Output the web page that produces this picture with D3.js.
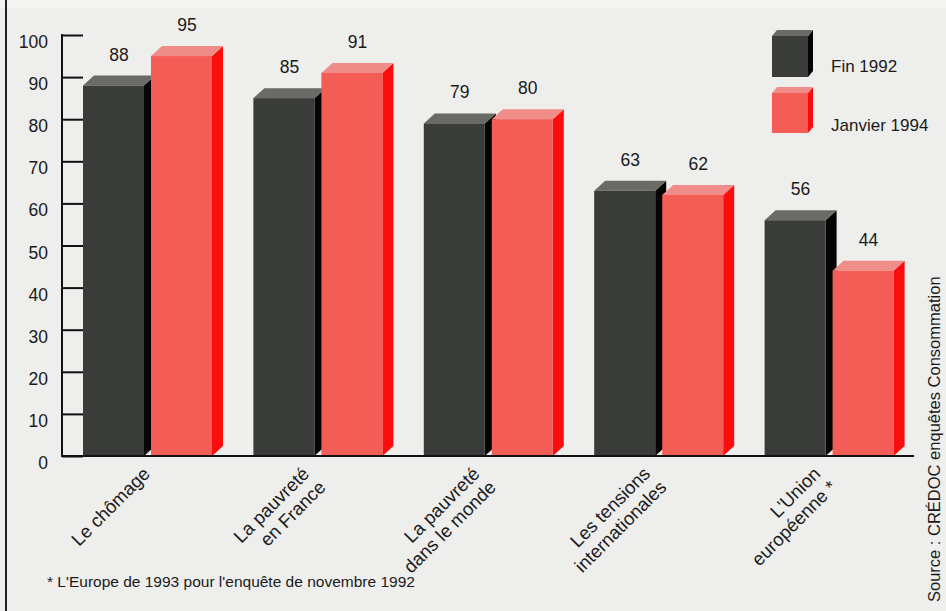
<!DOCTYPE html>
<html>
<head>
<meta charset="utf-8">
<script src="https://cdn.jsdelivr.net/npm/d3@7"></script>
<style>
  html, body { margin: 0; padding: 0; background: #eeeeec; }
  svg { display: block; }
  text { font-family: "Liberation Sans", Arial, Helvetica, sans-serif; fill: #1a1a1a; }
</style>
</head>
<body>
<svg id="chart" width="946" height="611"></svg>
<script>
// Inquiétudes : part des personnes interrogées (%)
const categories = [
  ["Le chômage"],
  ["La pauvreté", "en France"],
  ["La pauvreté", "dans le monde"],
  ["Les tensions", "internationales"],
  ["L'Union", "européenne *"]
];
const seriesNames = ["Fin 1992", "Janvier 1994"];
const fin1992 = [88, 85, 79, 63, 56];
const janvier1994 = [95, 91, 80, 62, 44];
const yTicks = [0, 10, 20, 30, 40, 50, 60, 70, 80, 90, 100];
const footnote = "* L'Europe de 1993 pour l'enquête de novembre 1992";
const source = "Source : CRÉDOC enquêtes Consommation";

const W = 946, H = 611;
const svg = d3.select("#chart");

// face colours for each series: front, top, side
const faces = [
  { front: "#3a3c39", top: "#6a6b67", side: "#050505" },
  { front: "#f45c56", top: "#f18d88", side: "#fb0d0d" }
];

const keys = categories.map(c => c.join(" "));
const rows = keys.map((k, i) => ({ key: k, lines: categories[i], values: [fin1992[i], janvier1994[i]] }));

const plot = { left: 62, right: 914, top: 35, bottom: 456 };
const depth = { dx: 11, dy: 10 };

const y = d3.scaleLinear().domain([0, 100]).range([plot.bottom, plot.top]);
const x0 = d3.scaleBand().domain(keys).range([83, 83 + 170.4 * keys.length]).paddingInner(0).paddingOuter(0);
const x1 = d3.scaleBand().domain(seriesNames).range([0, 129]).paddingInner(7 / 68).paddingOuter(0);

// Background and page edge
svg.append("rect").attr("width", W).attr("height", H).attr("fill", "#eeeeec");
svg.append("rect").attr("width", W).attr("height", 8).attr("fill", "#f4f4f3");
svg.append("line").attr("x1", 6).attr("x2", 6).attr("y1", 0).attr("y2", H)
  .attr("stroke", "#222").attr("stroke-width", 2);

// Extruded bar: front, top and right side faces
function drawBox(g, x, w, yTop, yBase, dx, dy, c) {
  g.append("path")
    .attr("d", `M${x + w},${yTop}L${x + w + dx},${yTop - dy}L${x + w + dx},${yBase - dy}L${x + w},${yBase}Z`)
    .attr("fill", c.side);
  g.append("path")
    .attr("d", `M${x},${yTop}L${x + dx},${yTop - dy}L${x + w + dx},${yTop - dy}L${x + w},${yTop}Z`)
    .attr("fill", c.top);
  g.append("rect").attr("x", x).attr("y", yTop).attr("width", w).attr("height", yBase - yTop)
    .attr("fill", c.front);
}

// Y axis with ticks pointing into the plot
const axisG = svg.append("g").attr("transform", `translate(${plot.left},0)`)
  .call(d3.axisRight(y).tickValues(yTicks).tickSize(21).tickFormat(""));
axisG.select(".domain").remove();
axisG.selectAll(".tick line").attr("stroke", "#111").attr("stroke-width", 2);
svg.append("line").attr("x1", plot.left).attr("x2", plot.left)
  .attr("y1", plot.top - 1).attr("y2", plot.bottom + 1)
  .attr("stroke", "#111").attr("stroke-width", 2);
svg.append("g").selectAll("text").data(yTicks).join("text")
  .attr("x", 48).attr("y", d => y(d) + 13)
  .attr("text-anchor", "end").attr("font-size", 17.5)
  .text(d => d);

// Bars
const bars = svg.append("g");
rows.forEach(r => {
  seriesNames.forEach((s, si) => {
    const v = r.values[si];
    const x = x0(r.key) + x1(s);
    const w = x1.bandwidth();
    drawBox(bars, x, w, y(v), y(0), depth.dx, depth.dy, faces[si]);
    bars.append("text")
      .attr("x", x + w / 2 + depth.dx / 2)
      .attr("y", y(v) - depth.dy - 15)
      .attr("text-anchor", "middle").attr("font-size", 17.5)
      .text(v);
  });
});

// Baseline
svg.append("line").attr("x1", plot.left).attr("x2", plot.right)
  .attr("y1", y(0)).attr("y2", y(0))
  .attr("stroke", "#111").attr("stroke-width", 2);

// Category labels, rotated
const labG = svg.append("g");
rows.forEach(r => {
  const cx = x0(r.key) + (129 + depth.dx) / 2;
  const two = r.lines.length > 1;
  const ax = two ? cx - 13 : cx - 2;
  const ay = 475;
  const t = labG.append("text")
    .attr("transform", `translate(${ax},${ay}) rotate(-45)`)
    .attr("text-anchor", "end").attr("font-size", 18.5);
  r.lines.forEach((ln, li) => {
    t.append("tspan").attr("x", li ? 2 : 0).attr("dy", li ? 21 : 0).text(ln);
  });
});

// Legend
const legend = svg.append("g");
const legendBoxes = [
  { top: 36, base: 77, textY: 72 },
  { top: 93, base: 133, textY: 131 }
];
seriesNames.forEach((s, si) => {
  const b = legendBoxes[si];
  drawBox(legend, 772, 36, b.top, b.base, 5, 6, faces[si]);
  legend.append("text").attr("x", 831).attr("y", b.textY)
    .attr("font-size", 17).text(s);
});

// Footnote and source
svg.append("text").attr("x", 47).attr("y", 587).attr("font-size", 15.5).text(footnote);
svg.append("text")
  .attr("transform", "translate(940,602) rotate(-90)")
  .attr("font-size", 16.5).attr("fill", "#333").text(source);
</script>
</body>
</html>
